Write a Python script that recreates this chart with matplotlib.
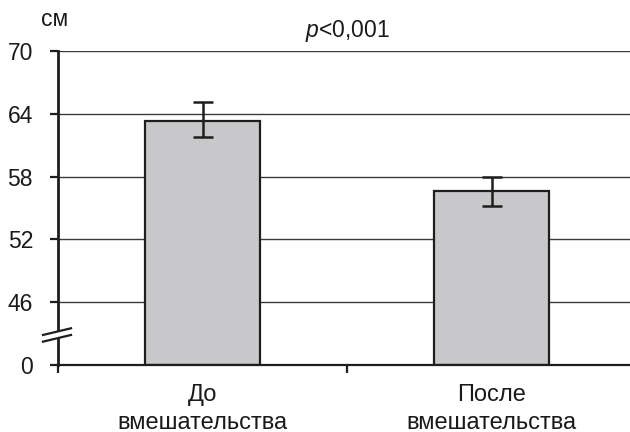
import numpy as np
import matplotlib
matplotlib.use("Agg")
import matplotlib.pyplot as plt

plt.rcParams['font.family'] = ['Liberation Sans', 'DejaVu Sans']
plt.rcParams['mathtext.fontset'] = 'custom'
plt.rcParams['mathtext.it'] = 'Liberation Sans:italic'
plt.rcParams['mathtext.rm'] = 'Liberation Sans'

categories = ["До\nвмешательства", "После\nвмешательства"]
means = [63.3, 56.6]
err_low = [1.5, 1.4]
err_high = [1.8, 1.4]
y_ticks = [0, 46, 52, 58, 64, 70]
y_unit = "см"
p_text = r"$\mathit{p}$<0,001"

# broken value axis: 0..46 squeezed into one tick step, then 6 units per step
BREAK = 46.0
STEP = 6.0


def forward(v):
    v = np.asarray(v, dtype=float)
    return np.where(v < BREAK, v / BREAK, 1 + (v - BREAK) / STEP)


def inverse(p):
    p = np.asarray(p, dtype=float)
    return np.where(p < 1, p * BREAK, BREAK + (p - 1) * STEP)


fig = plt.figure(figsize=(6.3, 4.32), dpi=100)
ax = fig.add_axes([58 / 630, 67 / 432, 578 / 630, 314 / 432])
ax.set_yscale('function', functions=(forward, inverse))
ax.set_ylim(0, 70)
ax.set_xlim(-0.5, 1.5)

x = np.arange(len(categories))
ink = '#1e1e1e'

for t in y_ticks[1:]:
    ax.axhline(t, color='#3a3a3a', lw=1.0, zorder=1)

ax.bar(x, means, width=0.4, color='#c8c8ca', edgecolor=ink, linewidth=1.6, zorder=2)
ax.errorbar(x, means, yerr=[err_low, err_high], fmt='none', ecolor=ink,
            elinewidth=1.8, capsize=7, capthick=1.8, zorder=3)

ax.spines['top'].set_visible(False)
ax.spines['right'].set_visible(False)
ax.spines['left'].set_linewidth(2.0)
ax.spines['left'].set_color(ink)
ax.spines['bottom'].set_linewidth(1.6)
ax.spines['bottom'].set_color(ink)

ax.set_yticks(y_ticks)
ax.set_yticklabels([str(t) for t in y_ticks])
ax.tick_params(axis='y', direction='out', length=6, width=1.6, color=ink,
               pad=12, labelsize=16.5, labelcolor='#1a1a1a')

ax.set_xticks(x)
ax.set_xticklabels(categories, linespacing=1.3)
ax.set_xticks([-0.5, 0.5, 1.5], minor=True)
ax.tick_params(axis='x', which='major', length=0, pad=14, labelsize=17,
               labelcolor='#1a1a1a')
ax.tick_params(axis='x', which='minor', direction='out', length=6, width=1.6,
               color=ink)

# axis break marks
tr = ax.get_yaxis_transform()
xl, xr = -0.026, 0.0225
upper = [22.0, 26.9]
lower = [17.1, 22.0]
ax.fill([xl, xr, xr, xl], [lower[0], lower[1], upper[1], upper[0]],
        transform=tr, color='white', clip_on=False, zorder=5, lw=0)
ax.plot([xl, xr], upper, transform=tr, color=ink, lw=1.6, clip_on=False, zorder=6)
ax.plot([xl, xr], lower, transform=tr, color=ink, lw=1.6, clip_on=False, zorder=6)

ax.set_title(p_text, fontsize=16.5, pad=10, color='#1a1a1a')
fig.text(41 / 630, 1 - 26 / 432, y_unit, fontsize=16.5, ha='left',
         va='baseline', color='#1a1a1a')

fig.savefig("out.png", dpi=100)
